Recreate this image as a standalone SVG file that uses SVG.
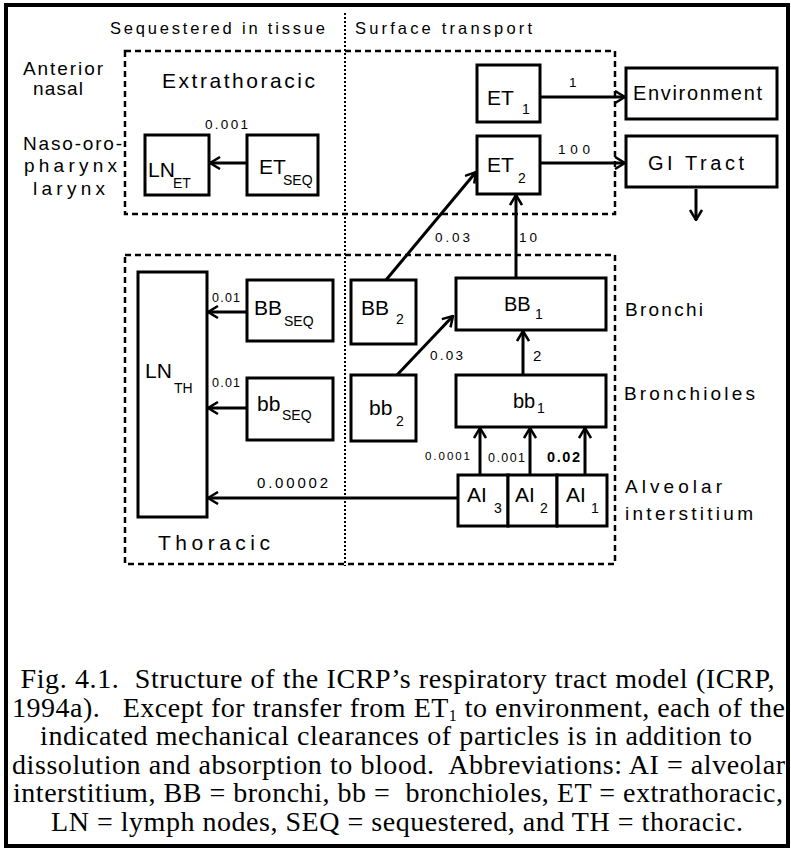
<svg xmlns="http://www.w3.org/2000/svg" width="791" height="850" viewBox="0 0 791 850">
<defs>
<style>
text{font-family:"Liberation Sans",Arial,Helvetica,sans-serif;fill:#000}
.box{fill:#fff;stroke:#000;stroke-width:3}
.grp{fill:none;stroke:#000;stroke-width:2.5;stroke-dasharray:6 4}
.div{stroke:#000;stroke-width:2;stroke-dasharray:2 2}
.con line{stroke:#000;stroke-width:3;marker-end:url(#arr)}
.hd{font-size:16.5px}
.side{font-size:19px}
.reg{font-size:21px}
.n{font-size:21px}
.s{font-size:14px}
.num{font-size:13.5px}
.cap{font-family:"Liberation Serif","Times New Roman",serif;font-size:28px;white-space:pre}
</style>
<marker id="arr" viewBox="0 0 12 14" refX="11" refY="7" markerWidth="12" markerHeight="14" markerUnits="userSpaceOnUse" orient="auto">
<path d="M1,1 L11,7 L1,13" fill="none" stroke="#000" stroke-width="2.5"/>
</marker>
</defs>
<rect x="0" y="0" width="791" height="850" fill="#fff"/>
<rect x="6" y="5" width="782" height="841" fill="none" stroke="#000" stroke-width="4"/>

<g id="regions">
<line class="div" x1="345" y1="13" x2="345" y2="566"/>
<rect class="grp" x="125" y="51" width="490" height="163"/>
<rect class="grp" x="125" y="255" width="490" height="309"/>
<text class="hd" x="110" y="34" textLength="215" lengthAdjust="spacing">Sequestered in tissue</text>
<text class="hd" x="355" y="34" textLength="177" lengthAdjust="spacing">Surface transport</text>
<text class="side" x="23" y="75" textLength="80" lengthAdjust="spacing">Anterior</text>
<text class="side" x="33" y="95" textLength="50" lengthAdjust="spacing">nasal</text>
<text class="side" x="23" y="150" textLength="99" lengthAdjust="spacing">Naso-oro-</text>
<text class="side" x="24" y="172" textLength="93" lengthAdjust="spacing">pharynx</text>
<text class="side" x="33" y="195" textLength="72" lengthAdjust="spacing">larynx</text>
<text class="reg" x="162" y="88" textLength="153" lengthAdjust="spacing">Extrathoracic</text>
<text class="reg" x="158" y="550" textLength="112" lengthAdjust="spacing">Thoracic</text>
<text class="side" x="625" y="316" textLength="78" lengthAdjust="spacing">Bronchi</text>
<text class="side" x="624" y="400" textLength="131" lengthAdjust="spacing">Bronchioles</text>
<text class="side" x="625" y="493" textLength="97" lengthAdjust="spacing">Alveolar</text>
<text class="side" x="625" y="520" textLength="128" lengthAdjust="spacing">interstitium</text>
</g>

<g id="connectors" class="con">
<line x1="247" y1="163" x2="210" y2="163"/>
<line x1="540" y1="97" x2="625" y2="97"/>
<line x1="540" y1="163" x2="625" y2="163"/>
<line x1="696" y1="189" x2="696" y2="220"/>
<line x1="386" y1="280" x2="476" y2="172"/>
<line x1="516" y1="278" x2="516" y2="195"/>
<line x1="247" y1="312" x2="208" y2="312"/>
<line x1="247" y1="408" x2="208" y2="408"/>
<line x1="397" y1="375" x2="453" y2="316"/>
<line x1="523" y1="375" x2="523" y2="331"/>
<line x1="480" y1="475" x2="480" y2="428"/>
<line x1="530" y1="475" x2="530" y2="428"/>
<line x1="585" y1="475" x2="585" y2="428"/>
<line x1="458" y1="498" x2="208" y2="498"/>
</g>

<g id="labels">
<text class="num" x="205" y="129" textLength="43" lengthAdjust="spacing">0.001</text>
<text class="num" x="569" y="87">1</text>
<text class="num" x="558" y="154" textLength="32" lengthAdjust="spacing">100</text>
<text class="num" x="435" y="242" textLength="35" lengthAdjust="spacing">0.03</text>
<text class="num" x="519" y="242" textLength="18" lengthAdjust="spacing">10</text>
<text class="num" x="212" y="302" textLength="28" lengthAdjust="spacing" style="font-size:12.5px">0.01</text>
<text class="num" x="212" y="387" textLength="28" lengthAdjust="spacing" style="font-size:12.5px">0.01</text>
<text class="num" x="430" y="360" textLength="33" lengthAdjust="spacing">0.03</text>
<text class="num" x="533" y="361" style="font-size:15px">2</text>
<text class="num" x="425" y="460" textLength="45" lengthAdjust="spacing" style="font-size:11.5px">0.0001</text>
<text class="num" x="488" y="462" textLength="37" lengthAdjust="spacing" style="font-size:12.5px">0.001</text>
<text class="num" x="547" y="462" textLength="33" lengthAdjust="spacing" style="font-size:14.5px;font-weight:bold">0.02</text>
<text class="num" x="257" y="488" textLength="71" lengthAdjust="spacing" style="font-size:15px">0.00002</text>
</g>

<g id="LN_ET"><rect class="box" x="145" y="135" width="64" height="60"/><text class="n" x="148" y="177">LN</text><text class="s" x="173" y="188">ET</text></g>
<g id="ET_SEQ"><rect class="box" x="247" y="135" width="71" height="60"/><text class="n" x="259" y="174">ET</text><text class="s" x="283" y="185">SEQ</text></g>
<g id="ET1"><rect class="box" x="477" y="65" width="63" height="57"/><text class="n" x="487" y="105">ET</text><text class="s" x="522" y="114">1</text></g>
<g id="ET2"><rect class="box" x="477" y="136" width="63" height="58"/><text class="n" x="487" y="172">ET</text><text class="s" x="518" y="183">2</text></g>
<g id="Environment"><rect class="box" x="626" y="68" width="151" height="51"/><text class="side" x="633" y="100" textLength="129" lengthAdjust="spacing" style="font-size:20px">Environment</text></g>
<g id="GI"><rect class="box" x="626" y="136" width="151" height="51"/><text class="side" x="648" y="170" textLength="96" lengthAdjust="spacing" style="font-size:20px">GI Tract</text></g>
<g id="LN_TH"><rect class="box" x="138" y="272" width="69" height="245"/><text class="n" x="145" y="378">LN</text><text class="s" x="174" y="393">TH</text></g>
<g id="BB_SEQ"><rect class="box" x="247" y="280" width="86" height="61"/><text class="n" x="254" y="315">BB</text><text class="s" x="284" y="326">SEQ</text></g>
<g id="bb_SEQ"><rect class="box" x="247" y="378" width="86" height="62"/><text class="n" x="257" y="411">bb</text><text class="s" x="282" y="420">SEQ</text></g>
<g id="BB2"><rect class="box" x="351" y="280" width="65" height="64"/><text class="n" x="361" y="315">BB</text><text class="s" x="396" y="324">2</text></g>
<g id="bb2"><rect class="box" x="351" y="375" width="65" height="66"/><text class="n" x="369" y="415">bb</text><text class="s" x="396" y="426">2</text></g>
<g id="BB1"><rect class="box" x="456" y="278" width="150" height="52"/><text class="n" x="504" y="311" style="font-size:20px">BB</text><text class="s" x="535" y="319">1</text></g>
<g id="bb1"><rect class="box" x="456" y="375" width="150" height="52"/><text class="n" x="513" y="408" style="font-size:20px">bb</text><text class="s" x="537" y="413">1</text></g>
<g id="AI3"><rect class="box" x="458" y="475" width="50" height="51"/><text class="n" x="467" y="502">AI</text><text class="s" x="494" y="513">3</text></g>
<g id="AI2"><rect class="box" x="508" y="475" width="49" height="51"/><text class="n" x="515" y="502">AI</text><text class="s" x="540" y="513">2</text></g>
<g id="AI1"><rect class="box" x="557" y="475" width="50" height="51"/><text class="n" x="566" y="502">AI</text><text class="s" x="591" y="513">1</text></g>

<g id="caption">
<text class="cap" x="397.5" y="688" text-anchor="middle" textLength="754" lengthAdjust="spacing">Fig. 4.1.  Structure of the ICRP’s respiratory tract model (ICRP,</text>
<text class="cap" x="398.5" y="716.5" text-anchor="middle" textLength="773" lengthAdjust="spacing">1994a).   Except for transfer from ET<tspan dy="4" style="font-size:16px">1</tspan><tspan dy="-4"> to environment, each of the</tspan></text>
<text class="cap" x="396" y="745" text-anchor="middle" textLength="712" lengthAdjust="spacing">indicated mechanical clearances of particles is in addition to</text>
<text class="cap" x="398.5" y="773.5" text-anchor="middle" textLength="773" lengthAdjust="spacing">dissolution and absorption to blood.  Abbreviations: AI = alveolar</text>
<text class="cap" x="398" y="802" text-anchor="middle" textLength="770" lengthAdjust="spacing">interstitium, BB = bronchi, bb =  bronchioles, ET = extrathoracic,</text>
<text class="cap" x="397" y="830.5" text-anchor="middle" textLength="692" lengthAdjust="spacing">LN = lymph nodes, SEQ = sequestered, and TH = thoracic.</text>
</g>
</svg>
